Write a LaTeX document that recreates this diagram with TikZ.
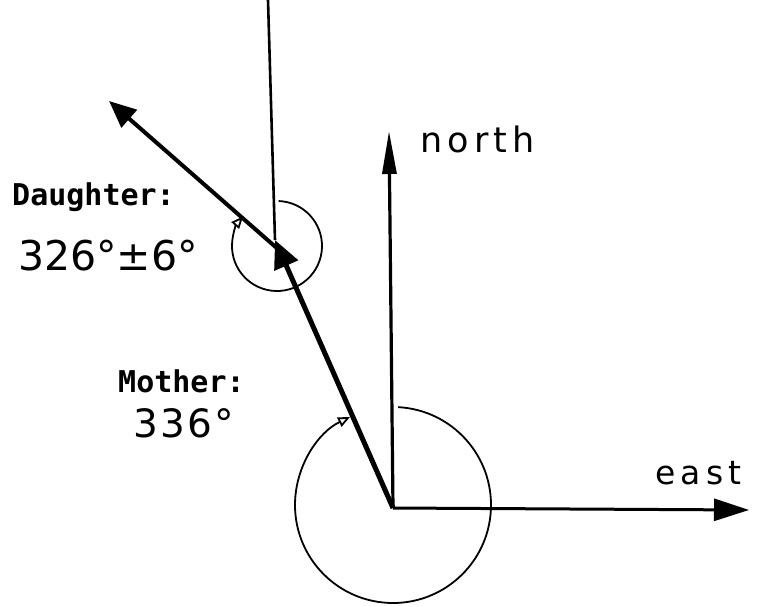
\documentclass[tikz,border=0pt]{standalone}
\usepackage{fontspec}
\setmainfont{DejaVu Sans}
\newfontfamily\monolab{DejaVu Sans Mono}
\usetikzlibrary{arrows.meta}
\begin{document}
\begin{tikzpicture}[x=1pt,y=-1pt,
  thinarc/.style={line width=1.8pt,-{Triangle[open,length=12pt,width=10pt,line width=1.8pt]}},
  monotext/.style={font=\monolab\bfseries\fontsize{30}{32}\selectfont,inner sep=0pt,anchor=base west},
  handtext/.style={inner sep=0pt,anchor=base west}]
\useasboundingbox (0,0) rectangle (757,607);
% coordinates
\coordinate (O) at (393,508);
\coordinate (Ntip) at (389,131);
\coordinate (Etip) at (749,510);
\coordinate (J) at (275,240);
\coordinate (Jc) at (279,250);
\coordinate (Dtip) at (109,101);
\coordinate (Vtop) at (268,0);
\coordinate (Vbot) at (275,240);
\coordinate (Mc) at (393,505);
\coordinate (Dc) at (277,246);
% axes
\draw[line width=3.2pt,-{Triangle[length=43pt,width=14pt]}] (O) -- (Ntip);
\draw[line width=3pt,-{Triangle[length=35pt,width=22pt]}] (O) -- (Etip);
% daughter vertical reference
\draw[line width=2.6pt] (Vtop) -- (Vbot);
% daughter arc
\draw[thinarc] ([shift={(-88:45)}]Dc) arc[start angle=-88,end angle=221,radius=45];
% mother arc
\draw[thinarc] ([shift={(-87:98)}]Mc) arc[start angle=-87,end angle=244,radius=98];
% daughter direction
\draw[line width=4pt,-{Triangle[length=27pt,width=23pt]}] (Jc) -- (Dtip);
% mother direction
\draw[line width=5pt,-{Triangle[length=28pt,width=25pt]}] (O) -- (J);
% labels
\node[monotext] (dl) at (12,205) {Daughter:};
\node[handtext,font=\fontsize{41}{46}\selectfont] (dv) at (18,270) {326°±6°};
\node[monotext] (ml) at (118,392) {Mother:};
\node[handtext,font=\fontsize{39}{44}\selectfont\addfontfeature{LetterSpace=6}] (mv) at (133,437) {336°};
\node[handtext,font=\fontsize{35}{40}\selectfont\addfontfeature{LetterSpace=15}] (nl) at (420,152) {north};
\node[handtext,font=\fontsize{33}{38}\selectfont\addfontfeature{LetterSpace=16}] (el) at (655,484) {east};
\end{tikzpicture}
\end{document}
